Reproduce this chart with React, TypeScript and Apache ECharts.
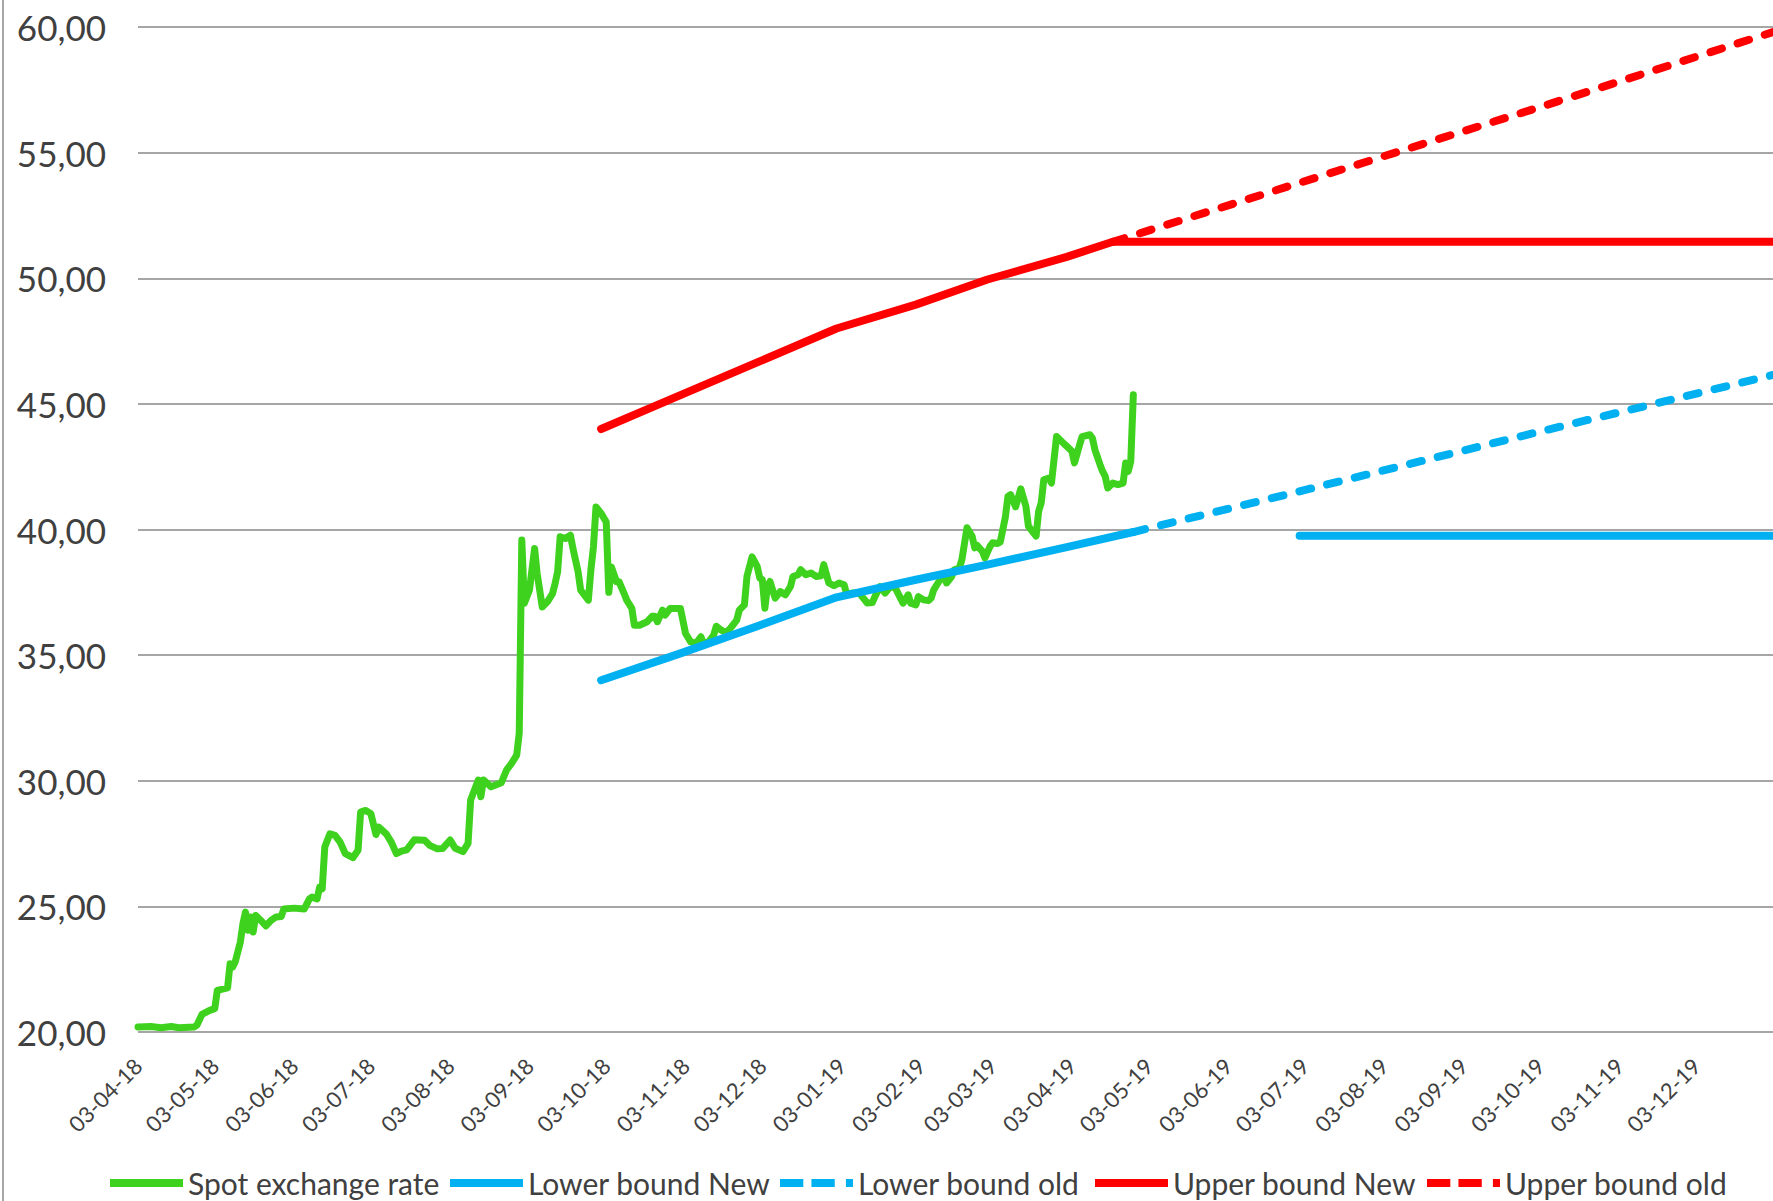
import React, { useEffect, useRef } from "react";
import * as echarts from "echarts";

// ---------- axis range (daily categories) ----------
const AXIS_START = "2018-04-03";
const AXIS_END = "2020-01-02";

// ---------- y axis ----------
const Y_MIN = 20;
const Y_MAX = 60;
const Y_STEP = 5;

// ---------- series names ----------
const seriesNames = [
  "Spot exchange rate",
  "Lower bound New",
  "Lower bound old",
  "Upper bound New",
  "Upper bound old",
];

// ---------- spot exchange rate ----------
const spotDates = [
  "2018-04-03", "2018-04-08", "2018-04-12", "2018-04-16", "2018-04-19", "2018-04-25", "2018-04-26", "2018-04-28",
  "2018-05-01", "2018-05-03", "2018-05-04", "2018-05-08", "2018-05-09", "2018-05-10", "2018-05-11", "2018-05-13",
  "2018-05-14", "2018-05-15", "2018-05-16", "2018-05-17", "2018-05-18", "2018-05-19", "2018-05-21", "2018-05-23",
  "2018-05-25", "2018-05-27", "2018-05-29", "2018-05-30", "2018-06-03", "2018-06-07", "2018-06-09", "2018-06-10",
  "2018-06-12", "2018-06-13", "2018-06-14", "2018-06-15", "2018-06-17", "2018-06-19", "2018-06-21", "2018-06-23",
  "2018-06-26", "2018-06-28", "2018-06-29", "2018-07-01", "2018-07-03", "2018-07-05", "2018-07-06", "2018-07-09",
  "2018-07-11", "2018-07-13", "2018-07-15", "2018-07-17", "2018-07-20", "2018-07-24", "2018-07-26", "2018-07-29",
  "2018-07-31", "2018-08-03", "2018-08-05", "2018-08-08", "2018-08-10", "2018-08-11", "2018-08-14", "2018-08-15",
  "2018-08-16", "2018-08-19", "2018-08-23", "2018-08-25", "2018-08-27", "2018-08-29", "2018-08-30", "2018-08-31",
  "2018-09-01", "2018-09-03", "2018-09-05", "2018-09-06", "2018-09-08", "2018-09-10", "2018-09-12", "2018-09-13",
  "2018-09-14", "2018-09-15", "2018-09-17", "2018-09-19", "2018-09-20", "2018-09-22", "2018-09-23", "2018-09-26",
  "2018-09-27", "2018-09-28", "2018-09-29", "2018-10-01", "2018-10-03", "2018-10-04", "2018-10-05", "2018-10-07",
  "2018-10-08", "2018-10-10", "2018-10-11", "2018-10-13", "2018-10-14", "2018-10-16", "2018-10-19", "2018-10-21",
  "2018-10-22", "2018-10-23", "2018-10-25", "2018-10-26", "2018-10-28", "2018-11-01", "2018-11-03", "2018-11-05",
  "2018-11-07", "2018-11-09", "2018-11-10", "2018-11-12", "2018-11-14", "2018-11-15", "2018-11-17", "2018-11-19",
  "2018-11-21", "2018-11-23", "2018-11-24", "2018-11-26", "2018-11-27", "2018-11-29", "2018-12-01", "2018-12-02",
  "2018-12-03", "2018-12-04", "2018-12-05", "2018-12-06", "2018-12-08", "2018-12-10", "2018-12-12", "2018-12-14",
  "2018-12-15", "2018-12-17", "2018-12-18", "2018-12-20", "2018-12-22", "2018-12-24", "2018-12-26", "2018-12-27",
  "2018-12-29", "2018-12-31", "2019-01-02", "2019-01-04", "2019-01-05", "2019-01-07", "2019-01-10", "2019-01-11",
  "2019-01-13", "2019-01-15", "2019-01-16", "2019-01-18", "2019-01-20", "2019-01-22", "2019-01-24", "2019-01-26",
  "2019-01-27", "2019-01-29", "2019-01-30", "2019-02-01", "2019-02-02", "2019-02-04", "2019-02-06", "2019-02-07",
  "2019-02-08", "2019-02-10", "2019-02-12", "2019-02-13", "2019-02-15", "2019-02-16", "2019-02-18", "2019-02-19",
  "2019-02-21", "2019-02-23", "2019-02-24", "2019-02-25", "2019-02-27", "2019-02-28", "2019-03-02", "2019-03-03",
  "2019-03-05", "2019-03-06", "2019-03-08", "2019-03-09", "2019-03-10", "2019-03-12", "2019-03-14", "2019-03-16",
  "2019-03-17", "2019-03-19", "2019-03-20", "2019-03-21", "2019-03-22", "2019-03-23", "2019-03-25", "2019-03-26",
  "2019-03-27", "2019-03-28", "2019-03-30", "2019-04-01", "2019-04-03", "2019-04-04", "2019-04-06", "2019-04-07",
  "2019-04-10", "2019-04-11", "2019-04-12", "2019-04-14", "2019-04-15", "2019-04-16", "2019-04-17", "2019-04-19",
  "2019-04-21", "2019-04-23", "2019-04-24", "2019-04-25", "2019-04-26", "2019-04-27",
];
const spotValues = [
  20.2, 20.22, 20.17, 20.22, 20.17, 20.2, 20.27, 20.7,
  20.86, 20.93, 21.66, 21.76, 22.72, 22.59, 22.79, 23.58,
  24.31, 24.77, 24.05, 24.58, 23.98, 24.64, 24.44, 24.22,
  24.44, 24.58, 24.6, 24.9, 24.93, 24.9, 25.3, 25.37,
  25.3, 25.77, 25.7, 27.36, 27.89, 27.83, 27.56, 27.1,
  26.94, 27.23, 28.75, 28.82, 28.69, 27.86, 28.16, 27.89,
  27.56, 27.1, 27.2, 27.25, 27.65, 27.63, 27.43, 27.29,
  27.3, 27.64, 27.31, 27.18, 27.51, 29.23, 30.03, 29.36,
  30.03, 29.76, 29.92, 30.42, 30.69, 31.02, 31.9, 39.58,
  37.06, 37.59, 39.24, 38.25, 36.92, 37.12, 37.45, 37.85,
  38.32, 39.71, 39.64, 39.77, 39.24, 38.32, 37.59, 37.19,
  38.38, 39.31, 40.9, 40.64, 40.3, 37.5, 38.51, 37.92,
  37.92, 37.45, 37.19, 36.86, 36.19, 36.19, 36.33, 36.55,
  36.55, 36.33, 36.79, 36.59, 36.86, 36.86, 35.86, 35.53,
  35.46, 35.73, 35.46, 35.53, 35.8, 36.15, 35.99, 35.9,
  36.13, 36.39, 36.79, 37.0, 38.13, 38.91, 38.53, 38.07,
  38.0, 36.87, 37.73, 37.93, 37.27, 37.53, 37.4, 37.73,
  38.13, 38.2, 38.4, 38.2, 38.27, 38.13, 38.16, 38.6,
  37.87, 37.76, 37.87, 37.8, 37.4, 37.47, 37.47, 37.33,
  37.07, 37.09, 37.33, 37.73, 37.47, 37.73, 37.67, 37.27,
  37.07, 37.4, 37.07, 37.0, 37.33, 37.2, 37.17, 37.27,
  37.6, 37.93, 38.2, 37.87, 38.13, 38.4, 38.47, 38.8,
  40.07, 39.73, 39.27, 39.36, 39.13, 38.87, 39.33, 39.47,
  39.44, 39.5, 40.5, 41.32, 41.39, 40.9, 41.62, 40.93,
  40.13, 39.87, 39.74, 40.73, 41.06, 41.98, 42.05, 41.85,
  42.78, 43.7, 43.5, 43.31, 43.11, 42.65, 43.37, 43.7,
  43.77, 43.64, 43.17, 42.58, 42.31, 42.12, 41.65, 41.85,
  41.79, 41.85, 42.65, 42.31, 42.71, 45.36,
];

// ---------- bands ----------
const lowerNewDates = [
  "2018-10-01", "2018-11-01", "2018-12-01", "2019-01-01", "2019-02-01", "2019-03-01", "2019-04-01", "2019-04-27",
  "2019-05-20", "2019-07-01", "2020-01-02",
];
const lowerNewValues = [34.0, 35.07, 36.15, 37.3, 38.0, 38.6, 39.3, 39.9, null, 39.75, 39.75];

const lowerOldDates = ["2019-04-27", "2019-07-01", "2019-10-01", "2020-01-02"];
const lowerOldValues = [39.9, 41.52, 43.85, 46.15];

const upperNewDates = [
  "2018-10-01", "2018-11-01", "2018-12-01", "2019-01-01", "2019-02-01", "2019-03-01", "2019-04-01", "2019-04-19",
  "2020-01-02",
];
const upperNewValues = [44.0, 45.35, 46.65, 48.0, 48.95, 49.95, 50.85, 51.45, 51.45];

const upperOldDates = ["2019-04-19", "2019-07-01", "2019-10-01", "2020-01-02"];
const upperOldValues = [51.45, 53.8, 56.75, 59.8];

// ---------- helpers ----------
function buildDays(start: string, end: string): string[] {
  const out: string[] = [];
  const s = new Date(start + "T00:00:00Z").getTime();
  const e = new Date(end + "T00:00:00Z").getTime();
  for (let t = s; t <= e; t += 86400000) {
    out.push(new Date(t).toISOString().slice(0, 10));
  }
  return out;
}
const categories = buildDays(AXIS_START, AXIS_END);

function pairs(dates: string[], values: (number | null)[]) {
  return dates.map((d, i) => [d, values[i] === null ? "-" : values[i]]);
}

const GREEN = "#3ed21f";
const BLUE = "#00b0f0";
const RED = "#ff0000";
const TEXT = "#404040";
const GRID = "#a6a6a6";
const FONT = "Lato";

// legend icons (solid bar / dash-dash-dot), 73 x 8
const ICON_SOLID = "path://M0,0 H73 V8 H0 Z";
const ICON_DASH = "path://M0,0 H23 V8 H0 Z M31,0 H54 V8 H31 Z M65,0 H72 V8 H65 Z";

export default function App() {
  const ref = useRef<HTMLDivElement>(null);

  useEffect(() => {
    if (!ref.current) return;
    const chart = echarts.init(ref.current, null, { renderer: "svg" });

    const legendLefts = [110, 450, 780, 1095, 1427];
    const legendIcons = [ICON_SOLID, ICON_SOLID, ICON_DASH, ICON_SOLID, ICON_DASH];
    const dash = [12, 16.5];

    const option: any = {
      animation: false,
      backgroundColor: "#ffffff",
      textStyle: { fontFamily: FONT },
      grid: { left: 138, right: 0, top: 27, bottom: 169, containLabel: false },
      legend: seriesNames.map((n, i) => ({
        data: [{ name: n, icon: legendIcons[i] }],
        left: legendLefts[i],
        top: 1168,
        padding: 0,
        itemWidth: 73,
        itemHeight: 8,
        itemGap: 0,
        symbolKeepAspect: false,
        selectedMode: false,
        textStyle: { fontSize: 30, color: TEXT, fontFamily: FONT },
      })),
      xAxis: {
        type: "category",
        data: categories,
        boundaryGap: false,
        axisLine: { show: false },
        axisTick: { show: false },
        splitLine: { show: false },
        axisLabel: {
          interval: (_i: number, v: string) => v.slice(8) === "03",
          rotate: 45,
          margin: 30,
          fontSize: 22,
          color: TEXT,
          fontFamily: FONT,
          formatter: (v: string) => `${v.slice(8)}-${v.slice(5, 7)}-${v.slice(2, 4)}`,
        },
      },
      yAxis: {
        type: "value",
        min: Y_MIN,
        max: Y_MAX,
        interval: Y_STEP,
        axisLine: { show: false },
        axisTick: { show: false },
        splitLine: { lineStyle: { color: GRID, width: 2 } },
        axisLabel: {
          margin: 32,
          fontSize: 35,
          color: TEXT,
          fontFamily: FONT,
          formatter: (v: number) => v.toFixed(2).replace(".", ","),
        },
      },
      graphic: [
        {
          type: "line",
          shape: { x1: 3, y1: 0, x2: 3, y2: 1201 },
          style: { stroke: GRID, lineWidth: 2 },
        },
      ],
      series: [
        {
          name: seriesNames[0],
          type: "line",
          data: pairs(spotDates, spotValues),
          symbol: "none",
          color: GREEN,
          lineStyle: { color: GREEN, width: 7, join: "round", cap: "round" },
        },
        {
          name: seriesNames[1],
          type: "line",
          data: pairs(lowerNewDates, lowerNewValues),
          symbol: "none",
          color: BLUE,
          lineStyle: { color: BLUE, width: 8, join: "round", cap: "round" },
        },
        {
          name: seriesNames[2],
          type: "line",
          data: pairs(lowerOldDates, lowerOldValues),
          symbol: "none",
          color: BLUE,
          lineStyle: { color: BLUE, width: 8, type: dash, cap: "round" },
        },
        {
          name: seriesNames[3],
          type: "line",
          data: pairs(upperNewDates, upperNewValues),
          symbol: "none",
          color: RED,
          lineStyle: { color: RED, width: 8, join: "round", cap: "round" },
        },
        {
          name: seriesNames[4],
          type: "line",
          data: pairs(upperOldDates, upperOldValues),
          symbol: "none",
          color: RED,
          lineStyle: { color: RED, width: 8, type: dash, cap: "round" },
        },
      ],
    };

    chart.setOption(option);
    return () => chart.dispose();
  }, []);

  return (
    <div
      ref={ref}
      style={{ position: "fixed", left: 0, top: 0, width: 1773, height: 1201, background: "#fff" }}
    />
  );
}
